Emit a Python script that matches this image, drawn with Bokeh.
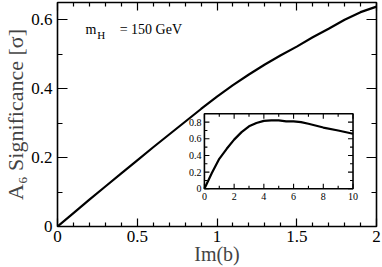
import math
from bokeh.plotting import figure
from bokeh.models import FixedTicker, LinearAxis, Label, Range1d
from bokeh.core.properties import value
from bokeh.embed import file_html
from bokeh.resources import INLINE

# ---- data ----
main_x = [0.0, 0.1, 0.2, 0.3, 0.4, 0.5, 0.6, 0.7, 0.8, 0.9, 1.0,
          1.1, 1.2, 1.3, 1.4, 1.5, 1.6, 1.7, 1.8, 1.9, 2.0]
main_y = [0.0, 0.039, 0.078, 0.116, 0.154, 0.192, 0.230, 0.267, 0.304, 0.341, 0.377,
          0.410, 0.441, 0.470, 0.497, 0.522, 0.549, 0.574, 0.600, 0.622, 0.638]

inset_x = [0, 0.5, 1, 1.5, 2, 2.5, 3, 3.5, 4, 4.5, 5, 5.5, 6, 6.5, 7, 8, 9, 10]
inset_y = [0, 0.19, 0.36, 0.48, 0.59, 0.68, 0.75, 0.79, 0.815, 0.82, 0.82, 0.81,
           0.81, 0.80, 0.78, 0.735, 0.70, 0.66]

main_xticks = [0, 0.5, 1, 1.5, 2]
main_xtick_labels = ["0", "0.5", "1", "1.5", "2"]
main_xminor = [0.1, 0.2, 0.3, 0.4, 0.6, 0.7, 0.8, 0.9, 1.1, 1.2, 1.3, 1.4,
               1.6, 1.7, 1.8, 1.9]
main_yticks = [0, 0.2, 0.4, 0.6]
main_ytick_labels = ["0", "0.2", "0.4", "0.6"]
main_yminor = [0.1, 0.3, 0.5]

inset_xticks = [0, 2, 4, 6, 8, 10]
inset_xtick_labels = ["0", "2", "4", "6", "8", "10"]
inset_xminor = [1, 3, 5, 7, 9]
inset_yticks = [0, 0.2, 0.4, 0.6, 0.8]
inset_ytick_labels = ["0", "0.2", "0.4", "0.6", "0.8"]
inset_yminor = [0.1, 0.3, 0.5, 0.7]

MAIN_X = (0, 2)
MAIN_Y = (0, 0.65)
INSET_X = (0, 10)
INSET_Y = (0, 0.9)

FONT = "Liberation Serif"

# ---- layout (pixels inside the figure) ----
W, H = 382, 267
FL, FR, FT, FB = 54, 376, 2, 226            # main frame edges
IL, IR, IT, IB = 202.3, 352.3, 113.3, 188.3  # inset frame edges


def style_axis(ax, ticks, minor, labels, show_labels, font_size,
               major_len, minor_len, standoff):
    ax.ticker = FixedTicker(ticks=ticks, minor_ticks=minor)
    ax.major_label_overrides = {t: l for t, l in zip(ticks, labels)}
    ax.axis_line_color = None
    ax.major_tick_line_color = "black"
    ax.minor_tick_line_color = "black"
    ax.major_tick_line_width = 1.2
    ax.minor_tick_line_width = 1.2
    ax.major_tick_in = major_len
    ax.major_tick_out = 0
    ax.minor_tick_in = minor_len
    ax.minor_tick_out = 0
    ax.major_label_text_font = FONT
    ax.major_label_text_color = "black"
    if show_labels:
        ax.major_label_text_font_size = font_size
        ax.major_label_standoff = standoff
    else:
        ax.major_label_text_font_size = "0px"
        ax.major_label_standoff = 0
        ax.major_label_text_color = None


p = figure(width=W, height=H, x_range=Range1d(*MAIN_X), y_range=Range1d(*MAIN_Y),
           output_backend="svg", toolbar_location=None,
           min_border_left=FL, min_border_right=W - FR, min_border_top=FT,
           min_border_bottom=H - FB)
p.grid.visible = False
p.outline_line_color = "black"
p.outline_line_width = 1.6
p.background_fill_color = "white"
p.border_fill_color = "white"

p.add_layout(LinearAxis(), "above")
p.add_layout(LinearAxis(), "right")

style_axis(p.below[0], main_xticks, main_xminor, main_xtick_labels, True, "17px", 8, 4, 4)
style_axis(p.above[0], main_xticks, main_xminor, main_xtick_labels, False, "17px", 8, 4, 0)
style_axis(p.left[0], main_yticks, main_yminor, main_ytick_labels, True, "17px", 10, 5, 5)
style_axis(p.right[0], main_yticks, main_yminor, main_ytick_labels, False, "17px", 10, 5, 0)

p.below[0].axis_label = "Im(b)"
p.below[0].axis_label_text_font = FONT
p.below[0].axis_label_text_font_size = "20px"
p.below[0].axis_label_text_font_style = "normal"
p.below[0].axis_label_standoff = -2
p.left[0].axis_label = "A\u2086 Significance [\u03c3]"
p.left[0].axis_label_text_font = FONT
p.left[0].axis_label_text_font_size = "22px"
p.left[0].axis_label_text_font_style = "normal"
p.left[0].axis_label_standoff = 0

p.line(main_x, main_y, line_color="black", line_width=2.2)

p.add_layout(Label(x=0.176, y=0.571, text="m", text_font=FONT, text_font_size="14px",
                   text_baseline="alphabetic", text_color="black"))
p.add_layout(Label(x=0.249, y=0.557, text="H", text_font=FONT, text_font_size="11px",
                   text_baseline="alphabetic", text_color="black"))
p.add_layout(Label(x=0.39, y=0.571, text="= 150 GeV", text_font=FONT,
                   text_font_size="14px", text_baseline="alphabetic", text_color="black"))

# ---- inset: its own scales mapped onto the inset rectangle ----
sx = (INSET_X[1] - INSET_X[0]) / (IR - IL)
sy = (INSET_Y[1] - INSET_Y[0]) / (IB - IT)
p.extra_x_ranges = {"ix": Range1d(INSET_X[0] - (IL - FL) * sx, INSET_X[1] + (FR - IR) * sx)}
p.extra_y_ranges = {"iy": Range1d(INSET_Y[0] - (FB - IB) * sy, INSET_Y[1] + (IT - FT) * sy)}
kw = dict(x_range_name="ix", y_range_name="iy")

p.quad(left=[INSET_X[0]], right=[INSET_X[1]], bottom=[INSET_Y[0]], top=[INSET_Y[1]],
       fill_color="white", line_color=None, **kw)

for ticks, ln in ((inset_xticks, 5), (inset_xminor, 3)):
    n = len(ticks)
    p.ray(x=ticks, y=[INSET_Y[0]] * n, length=ln, length_units="screen",
          angle=math.pi / 2, line_color="black", line_width=1.1, **kw)
    p.ray(x=ticks, y=[INSET_Y[1]] * n, length=ln, length_units="screen",
          angle=-math.pi / 2, line_color="black", line_width=1.1, **kw)
for ticks, ln in ((inset_yticks, 5), (inset_yminor, 3)):
    n = len(ticks)
    p.ray(x=[INSET_X[0]] * n, y=ticks, length=ln, length_units="screen",
          angle=0, line_color="black", line_width=1.1, **kw)
    p.ray(x=[INSET_X[1]] * n, y=ticks, length=ln, length_units="screen",
          angle=math.pi, line_color="black", line_width=1.1, **kw)

p.quad(left=[INSET_X[0]], right=[INSET_X[1]], bottom=[INSET_Y[0]], top=[INSET_Y[1]],
       fill_color=None, line_color="black", line_width=1.6, **kw)

p.text(x=inset_xticks, y=[INSET_Y[0]] * len(inset_xticks), text=inset_xtick_labels,
       y_offset=4, text_align="center", text_baseline="top",
       text_font=value(FONT), text_font_size=value("10px"), text_color="black", **kw)
p.text(x=[INSET_X[0]] * len(inset_yticks), y=inset_yticks, text=inset_ytick_labels,
       x_offset=-3, text_align="right", text_baseline="middle",
       text_font=value(FONT), text_font_size=value("10px"), text_color="black", **kw)

p.line(inset_x, inset_y, line_color="black", line_width=2.2, **kw)

open("out.html", "w").write(file_html(p, INLINE))
